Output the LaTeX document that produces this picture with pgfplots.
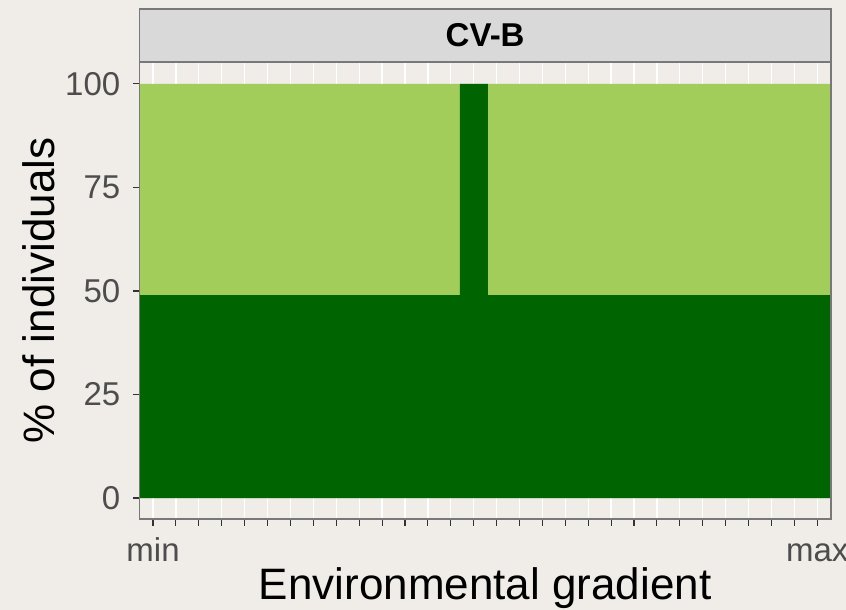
\documentclass[border=0pt]{standalone}
\usepackage{fontspec}
\setmainfont{Liberation Sans}
\usepackage{pgfplots}
\pgfplotsset{compat=1.18}
\usepackage{pgfplotstable}
\definecolor{bg}{RGB}{240,237,232}
\definecolor{lightg}{HTML}{A2CD5A}
\definecolor{darkg}{HTML}{006400}
\definecolor{stripfill}{HTML}{D9D9D9}
\definecolor{bordercol}{RGB}{120,120,120}
\definecolor{tickcol}{HTML}{4D4D4D}
\definecolor{tickmark}{HTML}{333333}

% left edge of each category bar (30 categories), cumulative percentages
\pgfplotstableread{
edge dark top
0.4   49 100
1.5   49 100
2.5   49 100
3.5   49 100
4.5   49 100
5.5   49 100
6.5   49 100
7.5   49 100
8.5   49 100
9.5   49 100
10.5  49 100
11.5  49 100
12.5  49 100
13.5  49 100
14.4  100 100
15.62 49 100
16.5  49 100
17.5  49 100
18.5  49 100
19.5  49 100
20.5  49 100
21.5  49 100
22.5  49 100
23.5  49 100
24.5  49 100
25.5  49 100
26.5  49 100
27.5  49 100
28.5  49 100
29.5  49 100
30.6  49 100
}\data

\begin{document}
\begin{tikzpicture}
\useasboundingbox (-139.3bp,-91bp) rectangle (706.7bp,519bp);
\fill[bg] (-139.3bp,-91bp) rectangle (706.7bp,519bp);
\begin{axis}[
  name=ax,
  at={(0,0)}, anchor=south west,
  scale only axis, width=691.7bp, height=457bp,
  xmin=0.4, xmax=30.6, ymin=-5.07, ymax=105.3,
  xtick={1,...,30}, xticklabels={},
  extra x ticks={1,30}, extra x tick labels={min,max},
  ytick={0,25,50,75,100},
  xtick pos=bottom, ytick pos=left,
  /pgf/number format/assume math mode=true,
  tick align=outside,
  major tick length=6.5bp,
  tick style={draw=tickmark, line width=1.1bp},
  xmajorgrids,
  grid style={white, line width=1.3bp},
  axis line style={draw=none},
  ticklabel style={font=\fontsize{33bp}{36bp}\selectfont, text=tickcol},
  xticklabel style={anchor=base, inner sep=0pt, yshift=-36bp},
  yticklabel style={anchor=east, inner sep=0pt, xshift=-12.3bp},
  xlabel={Environmental gradient},
  ylabel={\% of individuals},
  xlabel style={at={(axis description cs:0.5,-0.1772)}, anchor=base, inner sep=0pt, font=\fontsize{44bp}{48bp}\selectfont, text=black},
  ylabel style={at={(axis description cs:-0.1219,0.5)}, rotate=0, anchor=base, inner sep=0pt, font=\fontsize{44bp}{48bp}\selectfont, text=black},
  clip=true,
]
\addplot[ybar interval, fill=lightg, draw=none] table[x=edge, y=top] {\data};
\addplot[ybar interval, fill=darkg, draw=none] table[x=edge, y=dark] {\data};
\end{axis}
\draw[bordercol, line width=1.1bp] (ax.south west) rectangle (ax.north east);
\draw[fill=stripfill, draw=bordercol, line width=1.1bp] (ax.north west) rectangle ([yshift=53bp]ax.north east);
\node[font=\bfseries\fontsize{33bp}{36bp}\selectfont, text=black] at ([yshift=26.5bp]ax.north) {CV-B};
\end{tikzpicture}
\end{document}
